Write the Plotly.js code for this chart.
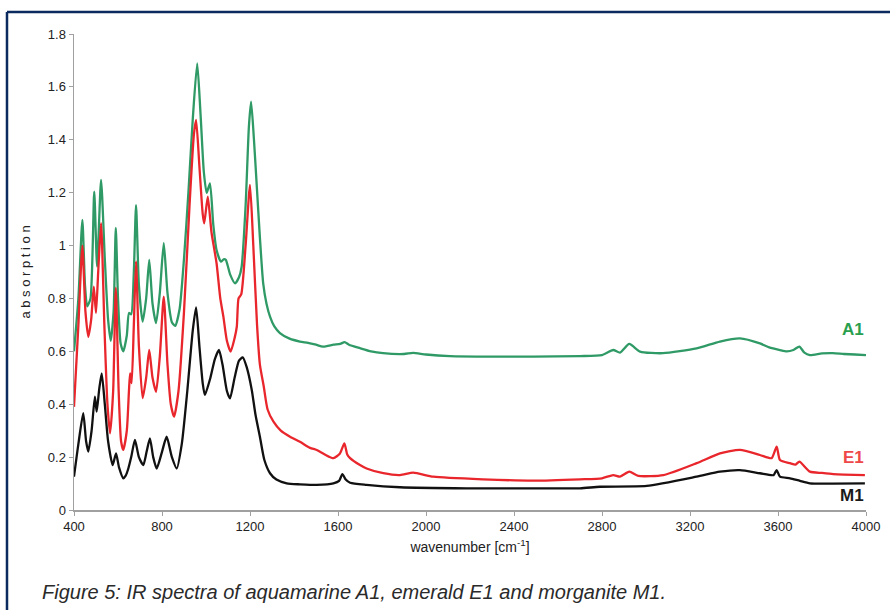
<!DOCTYPE html>
<html>
<head>
<meta charset="utf-8">
<script src="https://cdn.plot.ly/plotly-3.0.1.min.js"></script>
<style>html,body{margin:0;padding:0;background:#fff;}#chart{width:890px;height:610px;}</style>
</head>
<body>
<div id="chart"></div>
<script>
// Aquamarine A1
var a1_wn = [400,420,438,450,460,475,492,505,523,540,555,567,580,590,600,612,624,640,650,660,672,682,695,712,728,742,757,773,790,808,825,845,860,880,900,920,940,960,975,990,1003,1018,1033,1048,1068,1080,1090,1110,1132,1150,1162,1180,1195,1205,1218,1230,1245,1260,1275,1291,1310,1336,1380,1427,1464,1500,1532,1580,1610,1630,1650,1700,1750,1805,1900,1941,2000,2109,2300,2487,2700,2800,2851,2882,2924,2973,3077,3230,3336,3427,3518,3560,3609,3640,3670,3697,3720,3745,3800,3850,3900,3950,4000];
var a1_abs = [0.60,0.80,1.097,0.85,0.77,0.80,1.204,0.92,1.248,0.95,0.72,0.64,0.75,1.067,0.80,0.63,0.60,0.66,0.745,0.74,0.90,1.153,0.85,0.712,0.80,0.946,0.78,0.707,0.82,1.01,0.82,0.71,0.696,0.76,0.95,1.20,1.48,1.689,1.50,1.28,1.199,1.235,1.08,0.983,0.939,0.948,0.946,0.89,0.857,0.88,0.92,1.15,1.45,1.544,1.40,1.236,1.03,0.857,0.78,0.731,0.695,0.669,0.648,0.637,0.632,0.625,0.618,0.625,0.628,0.635,0.625,0.612,0.60,0.593,0.590,0.594,0.588,0.582,0.580,0.580,0.582,0.586,0.605,0.595,0.628,0.599,0.593,0.611,0.637,0.649,0.630,0.615,0.605,0.600,0.605,0.618,0.595,0.586,0.592,0.593,0.590,0.588,0.586];

// Emerald E1
var e1_wn = [400,420,438,452,465,478,490,500,510,523,538,552,564,578,590,603,614,624,640,650,655,662,672,682,695,712,728,742,757,773,790,808,825,840,855,875,900,925,945,955,970,985,992,1008,1025,1048,1065,1079,1095,1112,1130,1140,1148,1160,1180,1200,1215,1232,1245,1262,1280,1306,1340,1382,1427,1473,1503,1540,1579,1609,1629,1642,1655,1700,1730,1806,1882,1942,2033,2260,2488,2700,2800,2851,2882,2924,2965,3079,3230,3336,3427,3518,3571,3594,3609,3655,3680,3697,3745,3800,3851,3900,3995];
var e1_abs = [0.39,0.70,1.0,0.75,0.655,0.72,0.845,0.745,0.90,1.085,0.70,0.40,0.29,0.45,0.84,0.45,0.26,0.227,0.30,0.454,0.517,0.48,0.70,0.94,0.62,0.423,0.50,0.605,0.50,0.447,0.58,0.807,0.55,0.40,0.353,0.45,0.75,1.15,1.42,1.475,1.30,1.12,1.084,1.185,1.05,0.933,0.80,0.731,0.64,0.599,0.65,0.693,0.80,0.815,1.00,1.229,1.00,0.70,0.55,0.47,0.38,0.335,0.30,0.277,0.258,0.235,0.227,0.21,0.196,0.214,0.252,0.21,0.196,0.17,0.157,0.139,0.132,0.141,0.126,0.116,0.111,0.116,0.12,0.132,0.126,0.145,0.129,0.132,0.177,0.214,0.227,0.208,0.196,0.24,0.189,0.177,0.172,0.183,0.145,0.14,0.136,0.134,0.132];

// Morganite M1
var m1_wn = [400,420,442,455,465,480,495,503,515,526,540,555,576,591,605,624,635,647,660,677,695,715,730,745,760,776,800,821,845,867,890,915,940,955,970,985,995,1020,1040,1059,1075,1095,1109,1130,1150,1167,1185,1208,1225,1245,1265,1291,1320,1367,1427,1473,1503,1579,1605,1620,1635,1655,1730,1882,2185,2488,2700,2791,3003,3230,3336,3427,3518,3580,3594,3609,3655,3700,3745,3850,3995];
var m1_abs = [0.126,0.25,0.366,0.26,0.221,0.30,0.429,0.372,0.46,0.517,0.40,0.26,0.17,0.214,0.16,0.12,0.13,0.157,0.20,0.265,0.20,0.17,0.22,0.271,0.20,0.157,0.22,0.277,0.20,0.157,0.25,0.45,0.68,0.766,0.62,0.48,0.435,0.50,0.57,0.605,0.55,0.45,0.422,0.50,0.565,0.577,0.54,0.454,0.36,0.277,0.19,0.139,0.115,0.101,0.097,0.095,0.095,0.101,0.11,0.136,0.115,0.103,0.095,0.086,0.082,0.082,0.082,0.088,0.091,0.126,0.145,0.151,0.139,0.132,0.151,0.126,0.12,0.11,0.101,0.10,0.101];

var xTicks = [400,800,1200,1600,2000,2400,2800,3200,3600,4000];
var seriesNames = ['A1','E1','M1'];
var seriesColors = ['#2f9a66','#e8262c','#111111'];
var labelColors = ['#2aa04e','#ef4848','#1a1a1a'];
var labelY = [0.681, 0.20, 0.053];

function tr(x, y, i) {
  return {x: x, y: y, type: 'scatter', mode: 'lines', name: seriesNames[i],
    line: {color: seriesColors[i], width: 2.3, shape: 'spline', smoothing: 0.6},
    hoverinfo: 'skip'};
}

var data = [tr(a1_wn, a1_abs, 0), tr(e1_wn, e1_abs, 1), tr(m1_wn, m1_abs, 2)];

var annotations = seriesNames.map(function (n, i) {
  return {x: 4000, y: labelY[i], xref: 'x', yref: 'y', text: '<b>' + n + '</b>',
    showarrow: false, xanchor: 'right', yanchor: 'middle',
    font: {family: 'Liberation Sans, Arial, sans-serif', size: 17, color: labelColors[i]}};
});
annotations.push({
  x: -0.0429, y: -0.172, xref: 'paper', yref: 'paper', xanchor: 'left', yanchor: 'middle',
  showarrow: false, text: '<i>Figure 5: IR spectra of aquamarine A1, emerald E1 and morganite M1.</i>',
  font: {family: 'Liberation Sans, Arial, sans-serif', size: 20, color: '#2a2a2a'}
});

var layout = {
  width: 890, height: 610,
  margin: {l: 74, r: 24, t: 34, b: 100},
  paper_bgcolor: '#ffffff', plot_bgcolor: '#ffffff',
  showlegend: false,
  font: {family: 'Liberation Sans, Arial, sans-serif', color: '#222'},
  xaxis: {
    range: [400, 4000], tickvals: xTicks, ticktext: xTicks.map(String),
    showgrid: false, zeroline: false, showline: true, linecolor: '#a0a0a0', linewidth: 1.5,
    ticks: 'outside', ticklen: 4, tickcolor: '#a0a0a0',
    tickfont: {family: 'Liberation Sans, Arial, sans-serif', size: 13, color: '#222'},
    title: {text: 'wavenumber [cm<sup>-1</sup>]', standoff: 9,
      font: {family: 'Liberation Sans, Arial, sans-serif', size: 14, color: '#222'}}
  },
  yaxis: {
    range: [0, 1.8], dtick: 0.2, tick0: 0,
    showgrid: false, zeroline: false, showline: true, linecolor: '#a0a0a0', linewidth: 1.5,
    ticks: 'outside', ticklen: 4, tickcolor: '#a0a0a0',
    tickfont: {family: 'Liberation Sans, Arial, sans-serif', size: 13, color: '#222'},
    title: {text: 'a b s o r p t i o n', standoff: 14,
      font: {family: 'Liberation Sans, Arial, sans-serif', size: 13, color: '#222'}}
  },
  shapes: [
    {type: 'line', xref: 'paper', yref: 'paper', x0: -0.0846, x1: 1.05, y0: 1.0462, y1: 1.0462,
     line: {color: '#0b2a5e', width: 2.5}},
    {type: 'line', xref: 'paper', yref: 'paper', x0: -0.0846, x1: -0.0846, y0: 1.0462, y1: -0.22,
     line: {color: '#0b2a5e', width: 2.5}}
  ],
  annotations: annotations
};

Plotly.newPlot('chart', data, layout, {staticPlot: true, displayModeBar: false});
</script>
</body>
</html>
